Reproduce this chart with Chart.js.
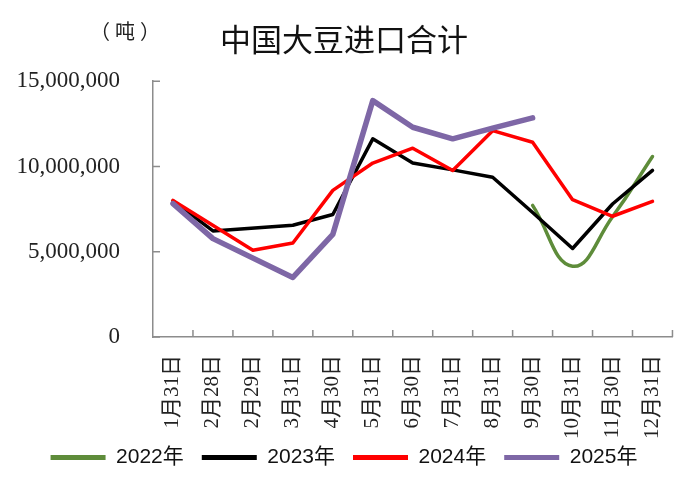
<!DOCTYPE html>
<html>
<head>
<meta charset="utf-8">
<script src="https://cdn.jsdelivr.net/npm/chart.js@4"></script>
<style>
  html, body { margin: 0; padding: 0; background: #fff; overflow: hidden; }
  #wrap { position: relative; width: 696px; height: 491px; }
  #unit {
    position: absolute; left: 90px; top: 16px; letter-spacing: 5px;
    font: 20px "Noto Sans CJK SC", sans-serif; color: #222;
  }
</style>
</head>
<body>
<div id="wrap">
  <canvas id="chart" width="696" height="491"></canvas>
  <div id="unit">（吨）</div>
</div>
<script>
// categories (month-end dates)
const LABELS = ['1月31日', '2月28日', '2月29日', '3月31日', '4月30日', '5月31日', '6月30日',
  '7月31日', '8月31日', '9月30日', '10月31日', '11月30日', '12月31日'];

// soybean imports, tonnes
const Y2022 = [null, null, null, null, null, null, null, null, null, 7720000, 4150000, 7050000, 10580000];
const Y2023 = [7980000, 6220000, null, 6550000, 7180000, 11620000, 10200000, 9800000, 9370000, 7300000, 5190000, 7800000, 9770000];
const Y2024 = [8010000, null, 5090000, 5510000, 8600000, 10200000, 11070000, 9760000, 12100000, 11420000, 8050000, 7080000, 7950000];
const Y2025 = [7820000, 5770000, null, 3490000, 6020000, 13860000, 12300000, 11620000, 12250000, 12850000, null, null, null];

const Y_TICKS = [0, 5000000, 10000000, 15000000];
const AXIS_GREY = '#8c8c8c';

// Excel-style axes: tick marks point into the plot, and the long
// rotated date labels may run down past the axis box into the legend band
const excelAxes = {
  id: 'excelAxes',
  afterLayout(chart) {
    const x = chart.scales.x;
    x.bottom = x.top + 125;
  },
  beforeDatasetsDraw(chart) {
    const { ctx, scales: { x, y } } = chart;
    ctx.save();
    ctx.strokeStyle = AXIS_GREY;
    ctx.lineWidth = 1.5;
    ctx.beginPath();
    const n = LABELS.length;
    const step = (x.right - x.left) / n;
    for (let i = 1; i <= n; i++) {
      const px = x.left + i * step;
      ctx.moveTo(px, y.bottom);
      ctx.lineTo(px, y.bottom - 7);
    }
    y.ticks.forEach(t => {
      const py = y.getPixelForValue(t.value);
      ctx.moveTo(x.left, py);
      ctx.lineTo(x.left + 7, py);
    });
    ctx.stroke();
    ctx.restore();
  }
};

function series(label, data, color, width, order, tension) {
  return {
    label, data, order,
    borderColor: color, backgroundColor: color,
    borderWidth: width, pointRadius: 0, tension: tension || 0,
    spanGaps: true, borderCapStyle: 'round', borderJoinStyle: 'round',
  };
}

new Chart(document.getElementById('chart'), {
  type: 'line',
  data: {
    labels: LABELS,
    datasets: [
      series('2022年', Y2022, '#5e8c3a', 3.5, 3, 0.45),
      series('2023年', Y2023, '#000000', 3.5, 2),
      series('2024年', Y2024, '#ff0000', 3.5, 1),
      series('2025年', Y2025, '#7e67a6', 5.5, 0),
    ],
  },
  options: {
    responsive: false,
    devicePixelRatio: 1,
    animation: false,
    layout: { padding: { left: 0, right: 8, top: 0, bottom: 13 } },
    plugins: {
      tooltip: { enabled: false },
      title: {
        display: true,
        text: '中国大豆进口合计',
        color: '#111',
        font: { family: '"Noto Sans CJK SC", sans-serif', size: 31, weight: 'normal' },
        padding: { top: 21, bottom: 23 },
      },
      legend: {
        position: 'bottom',
        labels: {
          color: '#111',
          font: { family: '"Liberation Sans", "Noto Sans CJK SC", sans-serif', size: 21 },
          boxWidth: 55,
          boxHeight: 5,
          padding: 18,
          sort: (a, b) => a.datasetIndex - b.datasetIndex,
          generateLabels: chart => Chart.defaults.plugins.legend.labels.generateLabels(chart)
            .map(l => ({ ...l, lineWidth: 0, fillStyle: l.strokeStyle })),
        },
      },
    },
    scales: {
      x: {
        offset: true,
        grid: { display: true, drawOnChartArea: false, drawTicks: false, offset: true },
        border: { display: true, color: AXIS_GREY, width: 1.5 },
        ticks: {
          color: '#222',
          minRotation: 90, maxRotation: 90, autoSkip: false, padding: 18,
          font: { family: '"Liberation Serif", "Noto Sans CJK SC", serif', size: 21 },
        },
        afterFit: s => { s.height = 92; },
      },
      y: {
        min: 0, max: 15000000,
        afterBuildTicks: s => { s.ticks = Y_TICKS.map(v => ({ value: v })); },
        grid: { display: true, drawOnChartArea: false, drawTicks: false },
        border: { display: true, color: AXIS_GREY, width: 1.5 },
        ticks: {
          color: '#222', padding: 33,
          font: { family: '"Liberation Serif", serif', size: 23 },
          callback: v => v.toLocaleString('en-US'),
        },
        afterFit: s => { s.width = 153; },
      },
    },
  },
  plugins: [excelAxes],
});
</script>
</body>
</html>
